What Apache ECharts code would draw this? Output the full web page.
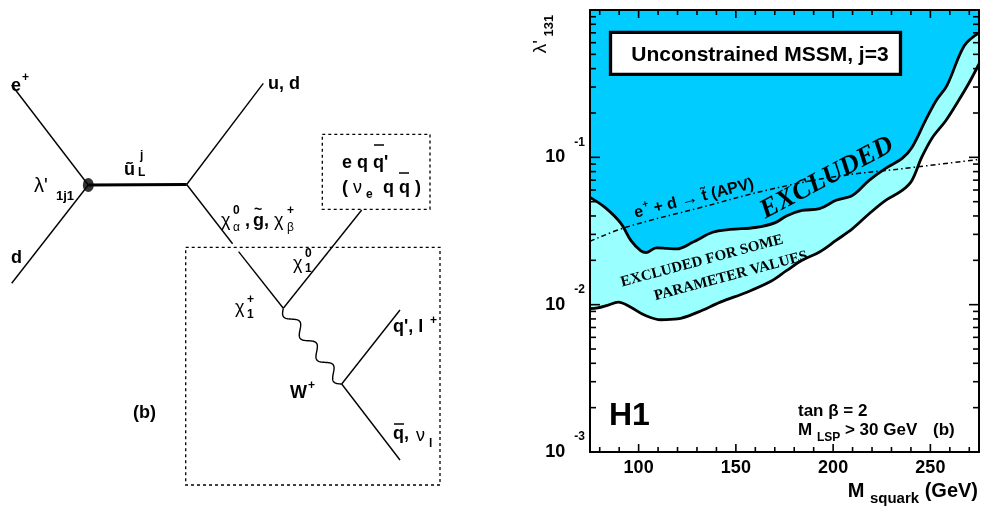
<!DOCTYPE html>
<html>
<head>
<meta charset="utf-8">
<script src="https://cdn.jsdelivr.net/npm/echarts@6/dist/echarts.min.js"></script>
<style>
  html, body { margin: 0; padding: 0; background: #ffffff; }
  #c { width: 981px; height: 507px; }
</style>
</head>
<body>
<div id="c"></div>
<script>
// ---------------- Exclusion limits: lambda'_131 versus M_squark (GeV) ----------------
// Boundary of the region excluded for all parameter values
const upperLimit = [
  [75, 0.0535], [82.7, 0.0457], [90.9, 0.0356], [96, 0.0273], [101, 0.0233],
  [104, 0.0226], [109, 0.0243], [114.5, 0.0241], [119.5, 0.0239], [128, 0.0266],
  [138, 0.0310], [147, 0.0324], [160, 0.0334], [170, 0.0359], [176, 0.0400],
  [184, 0.0436], [193, 0.0448], [201.5, 0.0511], [210, 0.0552], [218.5, 0.0697],
  [227, 0.0841], [235.5, 0.0983], [240.5, 0.1167], [247.5, 0.178], [253, 0.243],
  [258.5, 0.307], [267.5, 0.574], [275, 0.70]
];
// Boundary of the region excluded for some parameter values
const lowerLimit = [
  [75, 0.0094], [79, 0.0095], [84, 0.0099], [89.5, 0.0104], [96, 0.0096],
  [103, 0.0085], [111.5, 0.0079], [120, 0.0080], [130.5, 0.0089], [142, 0.0104],
  [156, 0.0122], [168, 0.0144], [176, 0.0170], [184, 0.0200], [193, 0.0228],
  [201.5, 0.0273], [210, 0.0328], [218.5, 0.0414], [227, 0.0511], [235.5, 0.0596],
  [240.5, 0.0697], [245.5, 0.0998], [251, 0.136], [258, 0.178], [264.5, 0.243],
  [270, 0.322], [275, 0.43]
];
// Atomic parity violation bound (e+ + d -> stop)
const apvLimit = [
  [75, 0.0269], [93.5, 0.0335], [131, 0.0453], [167, 0.0603],
  [201.5, 0.0741], [235.5, 0.0837], [275, 0.0968]
];
const xMajorTicks = [100, 150, 200, 250];
const xMinorTicks = [80, 90, 110, 120, 130, 140, 160, 170, 180, 190, 210, 220, 230, 240, 260, 270];
const yDecades = [0.001, 0.01, 0.1, 1];

// ---------------- Feynman diagram geometry (panel units) ----------------
const eVertex = [88.3, 185];
const squarkVertex = [186.7, 184.5];
const charginoVertex = [283.3, 308.3];
const wVertex = [341.7, 384];
const diagramLegs = [
  { from: [11.7, 85], to: eVertex, width: 1.4 },            // e+
  { from: [11.7, 283.3], to: eVertex, width: 1.4 },         // d
  { from: eVertex, to: squarkVertex, width: 3 },            // squark
  { from: squarkVertex, to: [263.3, 83.3], width: 1.4 },    // u, d
  { from: squarkVertex, to: [232.6, 243.8], width: 1.4 },   // chi / gluino (upper part)
  { from: [238.6, 251.6], to: charginoVertex, width: 1.4 }, // chargino (lower part)
  { from: charginoVertex, to: [361.7, 210], width: 1.4 },   // chi0_1
  { from: wVertex, to: [400, 310], width: 1.4 },            // q', l+
  { from: wVertex, to: [400, 460], width: 1.4 }             // qbar, nu
];
const diagramBoxes = [
  [[322.3, 134.3], [430, 134.3], [430, 209.3], [322.3, 209.3], [322.3, 134.3]],
  [[185.7, 247.3], [440, 247.3], [440, 485], [185.7, 485], [185.7, 247.3]]
];

// minor ticks inside each decade of the log axis
const yMinorTicks = [];
yDecades.slice(0, 3).forEach(function (d) {
  for (let k = 2; k <= 9; k++) yMinorTicks.push(+(k * d).toPrecision(3));
});

const SANS = "'Liberation Sans', Arial, sans-serif";
const SERIF = "'Liberation Serif', 'Times New Roman', serif";

function txt(x, y, text, size, opt) {
  opt = opt || {};
  return {
    type: 'text', x: x, y: y, z: 100,
    rotation: opt.rot || 0,
    style: {
      text: text,
      fontSize: size,
      fontWeight: opt.weight || 'bold',
      fontStyle: opt.style || 'normal',
      fontFamily: opt.family || SANS,
      fill: '#000',
      align: opt.align || 'left',
      verticalAlign: 'middle',
      rich: opt.rich
    }
  };
}
function seg(x1, y1, x2, y2, w) {
  return { type: 'line', z: 100, shape: { x1: x1, y1: y1, x2: x2, y2: y2 }, style: { stroke: '#000', lineWidth: w } };
}
function bar(x1, x2, y) { return seg(x1, y, x2, y, 1.5); }

const deg = Math.PI / 180;
const graphics = [
  // ---- diagram labels ----
  txt(11, 86, 'e', 18), txt(22, 78, '+', 12),
  txt(11, 258, 'd', 18),
  txt(34, 186, "λ'", 20, { weight: 'normal' }), txt(56, 196, '1j1', 13),
  txt(124, 170, 'ũ', 18), txt(140, 156, 'j', 12), txt(138, 173, 'L', 12),
  txt(268, 84, 'u, d', 18),
  txt(342, 163, "e q q'", 18), bar(374, 384, 145),
  txt(342, 188, '(', 18), txt(353, 188, 'ν', 18, { weight: 'normal' }), txt(366, 195, 'e', 12),
  txt(383, 188, 'q q )', 18), bar(399, 409, 173),
  txt(221, 221, 'χ', 18, { weight: 'normal' }), txt(233, 211, '0', 12), txt(233, 228, 'α', 12, { weight: 'normal' }),
  txt(245, 221, ',', 18), txt(253, 221, 'g', 18), txt(254, 210, '~', 14),
  txt(264, 221, ',', 18),
  txt(274, 221, 'χ', 18, { weight: 'normal' }), txt(287, 211, '+', 12), txt(287, 228, 'β', 12, { weight: 'normal' }),
  txt(293, 264, 'χ', 18, { weight: 'normal' }), txt(305, 254, '0', 12), txt(305, 269, '1', 12),
  txt(235, 308, 'χ', 18, { weight: 'normal' }), txt(247, 300, '+', 12), txt(247, 315, '1', 12),
  txt(393, 327, "q', l", 18), txt(430, 321, '+', 12),
  txt(290, 393, 'W', 18), txt(308, 386, '+', 12),
  txt(393, 434, 'q,', 18), bar(394, 404, 424),
  txt(416, 436, 'ν', 18, { weight: 'normal' }), txt(429, 444, 'l', 12),
  txt(133, 413, '(b)', 18),

  // ---- plot annotations ----
  {
    type: 'rect', z: 90,
    shape: { x: 610.5, y: 32.3, width: 290, height: 42 },
    style: { fill: '#ffffff', stroke: '#000', lineWidth: 3.3 }
  },
  txt(760, 55, 'Unconstrained MSSM, j=3', 21, { align: 'center' }),
  txt(827, 178, 'EXCLUDED', 27, { family: SERIF, style: 'italic', align: 'center', rot: 28 * deg }),
  txt(694, 198.5, '{b|e}{p|+}{b| + d }{a|→}{b| t̃ (APV)}', 16, {
    align: 'center', rot: 14 * deg,
    rich: {
      b: { fontSize: 16, fontWeight: 'bold', fontFamily: SANS },
      p: { fontSize: 10, fontWeight: 'bold', fontFamily: SANS, padding: [0, 0, 12, 1] },
      a: { fontSize: 17, fontWeight: 'normal', fontFamily: SANS }
    }
  }),
  txt(702, 261, 'EXCLUDED FOR SOME', 15, { family: SERIF, align: 'center', rot: 15 * deg }),
  txt(731, 276, 'PARAMETER VALUES', 15, { family: SERIF, align: 'center', rot: 15 * deg }),
  txt(609, 416, 'H1', 32),
  txt(798, 411, 'tan β = 2', 17),
  txt(798, 430, '{b|M }{s|LSP}{b| > 30 GeV}', 17, {
    rich: {
      b: { fontSize: 17, fontWeight: 'bold', fontFamily: SANS },
      s: { fontSize: 12, fontWeight: 'bold', fontFamily: SANS, padding: [16, 0, 0, 0] }
    }
  }),
  txt(933, 430, '(b)', 17),
  txt(978, 491.5, '{b|M }{s|squark}{b| (GeV)}', 20, {
    align: 'right',
    rich: {
      b: { fontSize: 20, fontWeight: 'bold', fontFamily: SANS },
      s: { fontSize: 15, fontWeight: 'bold', fontFamily: SANS, padding: [15, 0, 0, 0] }
    }
  }),
  txt(541, 34, "{g|λ'}{s| 131}", 19, {
    align: 'center', rot: 90 * deg,
    rich: {
      g: { fontSize: 19, fontWeight: 'normal', fontFamily: SANS },
      s: { fontSize: 13, fontWeight: 'bold', fontFamily: SANS, padding: [16, 0, 0, 0] }
    }
  })
];

const chart = echarts.init(document.getElementById('c'));

const frameLine = { show: true, onZero: false, lineStyle: { color: '#000', width: 2 } };
function xFrame(position, label) {
  return {
    gridIndex: 0, type: 'value', min: 75, max: 275, interval: 25, position: position, z: 10,
    axisLine: frameLine, axisTick: { show: false }, splitLine: { show: false },
    axisLabel: label || { show: false }
  };
}
function yFrame(position, label) {
  return {
    gridIndex: 0, type: 'log', logBase: 10, min: 0.001, max: 1, position: position, z: 10,
    axisLine: frameLine, axisTick: { show: false }, splitLine: { show: false },
    axisLabel: label || { show: false }
  };
}

const option = {
  animation: false,
  backgroundColor: '#ffffff',
  grid: [
    { left: 590, top: 10, width: 389, height: 442, show: false },
    { left: 0, top: 0, width: 490, height: 507, show: false }
  ],
  xAxis: [
    xFrame('bottom', {
      margin: 7, fontSize: 18, fontWeight: 'bold', fontFamily: SANS, color: '#000',
      customValues: xMajorTicks,
      formatter: function (v) { return String(v); }
    }),
    { gridIndex: 1, type: 'value', min: 0, max: 490, show: false },
    xFrame('top')
  ],
  yAxis: [
    yFrame('left', {
      margin: 5, color: '#000',
      formatter: function (v) {
        const e = Math.round(Math.log10(v));
        return e >= 0 ? '' : '{b|10}{s|' + e + '}';
      },
      rich: {
        b: { fontSize: 18, fontWeight: 'bold', fontFamily: SANS, color: '#000' },
        s: { fontSize: 12, fontWeight: 'bold', fontFamily: SANS, color: '#000', padding: [0, 0, 30, 9] }
      }
    }),
    { gridIndex: 1, type: 'value', min: 0, max: 507, inverse: true, show: false },
    yFrame('right')
  ],
  series: [
    {
      name: 'excluded for some parameter values', type: 'line', xAxisIndex: 0, yAxisIndex: 0,
      data: lowerLimit, smooth: 0.35, showSymbol: false, z: 2,
      lineStyle: { color: '#000', width: 2.8 },
      areaStyle: { color: '#99ffff', opacity: 1, origin: 'end' }
    },
    {
      name: 'excluded', type: 'line', xAxisIndex: 0, yAxisIndex: 0,
      data: upperLimit, smooth: 0.35, showSymbol: false, z: 3,
      lineStyle: { color: '#000', width: 2.8 },
      areaStyle: { color: '#00ccff', opacity: 1, origin: 'end' }
    },
    {
      name: 'APV', type: 'line', xAxisIndex: 0, yAxisIndex: 0,
      data: apvLimit, smooth: 0.4, showSymbol: false, z: 4,
      lineStyle: { color: '#000', width: 1.5, type: [5, 3, 1.5, 3] }
    },
    // ---- Feynman diagram ----
    {
      name: 'legs', type: 'lines', coordinateSystem: 'cartesian2d', xAxisIndex: 1, yAxisIndex: 1,
      data: diagramLegs.map(function (l) {
        return { coords: [l.from, l.to], lineStyle: { width: l.width, color: '#000', opacity: 1 } };
      })
    },
    {
      name: 'boxes', type: 'lines', coordinateSystem: 'cartesian2d', xAxisIndex: 1, yAxisIndex: 1,
      polyline: true,
      lineStyle: { color: '#000', width: 1.3, type: [3, 3], opacity: 1 },
      data: diagramBoxes.map(function (b) { return { coords: b }; })
    },
    {
      name: 'W boson', type: 'custom', xAxisIndex: 1, yAxisIndex: 1,
      data: [[charginoVertex[0], charginoVertex[1], wVertex[0], wVertex[1]]],
      renderItem: function (params, api) {
        const a = api.coord([api.value(0), api.value(1)]);
        const b = api.coord([api.value(2), api.value(3)]);
        const dx = b[0] - a[0], dy = b[1] - a[1];
        const L = Math.sqrt(dx * dx + dy * dy);
        const nx = -dy / L, ny = dx / L;
        const pts = [];
        const periods = 3.5, amp = 5;
        for (let i = 0; i <= 140; i++) {
          const t = i / 140;
          const off = amp * Math.sin(2 * Math.PI * periods * t);
          pts.push([a[0] + dx * t + nx * off, a[1] + dy * t + ny * off]);
        }
        return { type: 'polyline', shape: { points: pts }, style: { stroke: '#000', lineWidth: 1.4, fill: null } };
      }
    },
    {
      name: 'coupling vertex', type: 'scatter', xAxisIndex: 1, yAxisIndex: 1,
      data: [eVertex], symbol: 'circle', symbolSize: [11, 14],
      itemStyle: { color: '#000' }
    }
  ]
};
chart.setOption(option);

// Frame tick marks, placed through the plot's own scales once the layout exists
function toPx(x, y) { return chart.convertToPixel({ xAxisIndex: 0, yAxisIndex: 0 }, [x, y]); }
const tickMarks = [];
function xTick(m, len) {
  const b = toPx(m, 0.001), t = toPx(m, 1);
  tickMarks.push(seg(b[0], b[1], b[0], b[1] - len, 1.6));
  tickMarks.push(seg(t[0], t[1], t[0], t[1] + len, 1.6));
}
function yTick(v, len) {
  const l = toPx(75, v), r = toPx(275, v);
  tickMarks.push(seg(l[0], l[1], l[0] + len, l[1], 1.6));
  tickMarks.push(seg(r[0], r[1], r[0] - len, r[1], 1.6));
}
xMajorTicks.forEach(function (m) { xTick(m, 8); });
xMinorTicks.forEach(function (m) { xTick(m, 5); });
yDecades.forEach(function (v) { yTick(v, 10); });
yMinorTicks.forEach(function (v) { yTick(v, 6); });

chart.setOption({ graphic: graphics.concat(tickMarks) });
</script>
</body>
</html>
